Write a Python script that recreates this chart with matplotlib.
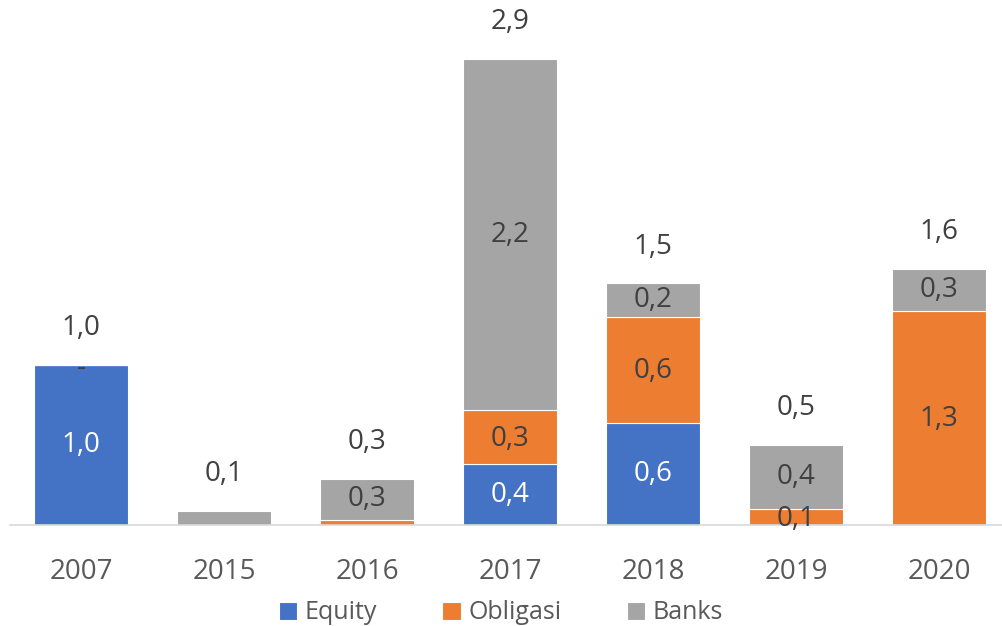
import numpy as np
import matplotlib.pyplot as plt

plt.rcParams['font.family'] = ['Open Sans', 'DejaVu Sans']

years = ['2007', '2015', '2016', '2017', '2018', '2019', '2020']
equity = [1.0, 0.0, 0.0, 0.38, 0.64, 0.0, 0.0]
obligasi = [0.0, 0.0, 0.03, 0.34, 0.66, 0.10, 1.34]
banks = [0.0, 0.09, 0.26, 2.19, 0.21, 0.40, 0.26]
totals = ['1,0', '0,1', '0,3', '2,9', '1,5', '0,5', '1,6']

# inside labels (None = no label)
equity_lbl = ['1,0', None, None, '0,4', '0,6', None, None]
obligasi_lbl = ['-', None, None, '0,3', '0,6', '0,1', '1,3']
banks_lbl = [None, None, '0,3', '2,2', '0,2', '0,4', '0,3']

colors = {'Equity': '#4472C4', 'Obligasi': '#ED7D31', 'Banks': '#A5A5A5'}
text_dark = '#404040'

fig = plt.figure(figsize=(10.02, 6.26), dpi=100)
ax = fig.add_axes([0.0095, 0.1613, 0.999, 0.8387])

x = np.arange(len(years))
w = 0.66
eq = np.array(equity)
ob = np.array(obligasi)
bk = np.array(banks)

b1 = ax.bar(x, eq, w, color=colors['Equity'], edgecolor='white', linewidth=0.8, label='Equity')
b2 = ax.bar(x, ob, w, bottom=eq, color=colors['Obligasi'], edgecolor='white', linewidth=0.8, label='Obligasi')
b3 = ax.bar(x, bk, w, bottom=eq + ob, color=colors['Banks'], edgecolor='white', linewidth=0.8, label='Banks')

fs = 20
for i in range(len(years)):
    if equity_lbl[i]:
        ax.text(x[i], eq[i] / 2, equity_lbl[i], ha='center', va='center',
                color='white', fontsize=fs)
    if obligasi_lbl[i]:
        off = 0.02 if ob[i] == 0 else 0.01
        ax.text(x[i], eq[i] + ob[i] / 2 - off, obligasi_lbl[i], ha='center', va='center',
                color=text_dark, fontsize=fs, zorder=5)
    if banks_lbl[i]:
        ax.text(x[i], eq[i] + ob[i] + bk[i] / 2, banks_lbl[i], ha='center', va='center',
                color=text_dark, fontsize=fs)
    top = eq[i] + ob[i] + bk[i]
    ax.text(x[i], top + 0.23, totals[i], ha='center', va='center',
            color=text_dark, fontsize=fs)

ax.set_xlim(-0.5, 6.5)
ax.set_ylim(0, 3.28)
ax.set_xticks(x)
ax.set_xticklabels(years, fontsize=fs, color='#595959')
ax.tick_params(axis='x', length=0, pad=24)
ax.set_yticks([])
for s in ['top', 'right', 'left']:
    ax.spines[s].set_visible(False)
ax.spines['bottom'].set_color('#D9D9D9')
ax.spines['bottom'].set_linewidth(1.2)

leg = fig.legend(handles=[b1, b2, b3], loc='lower center', bbox_to_anchor=(0.5, -0.035),
                 ncol=3, frameon=False, fontsize=18, handlelength=0.75, handleheight=0.75,
                 handletextpad=0.3, columnspacing=2.6)
for t in leg.get_texts():
    t.set_color('#595959')

fig.savefig('out.png', dpi=100)
